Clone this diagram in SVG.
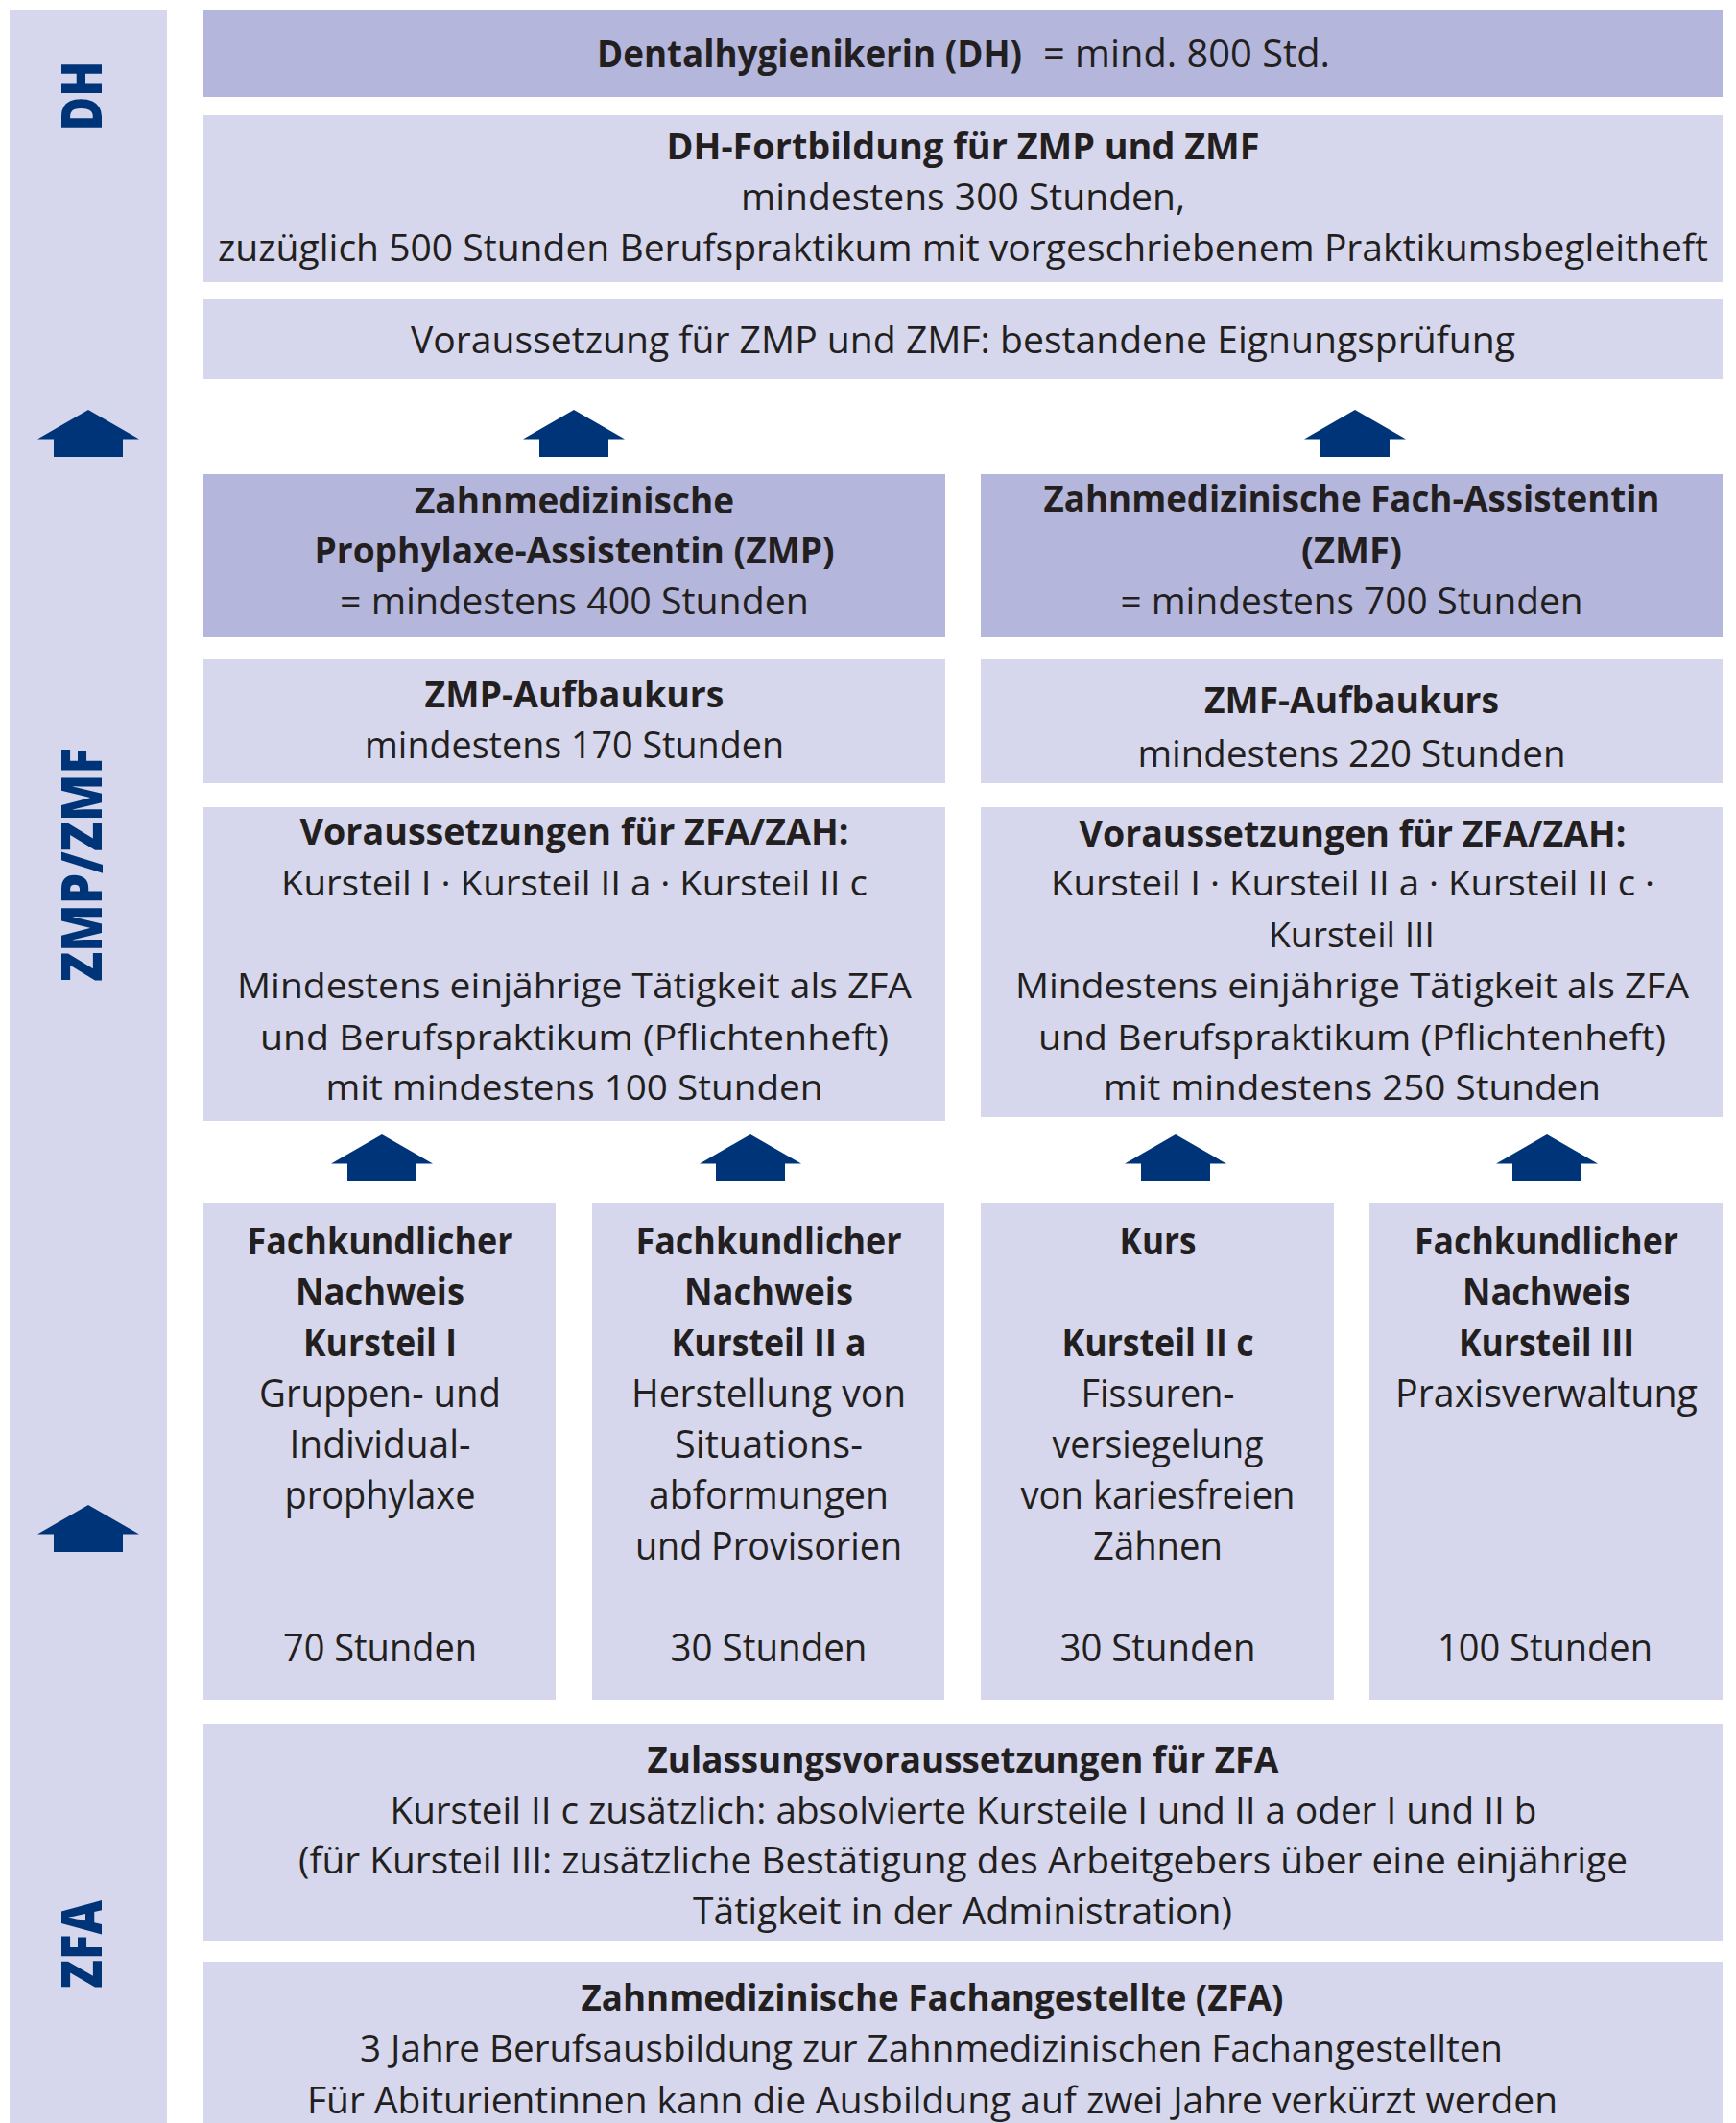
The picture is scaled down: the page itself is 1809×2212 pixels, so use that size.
<svg xmlns="http://www.w3.org/2000/svg" width="1809" height="2212" viewBox="0 0 1809 2212">
<style>
.l{fill:#D6D7EC}
.d{fill:#B4B6DC}
text{font-family:"Open Sans","Noto Sans","DejaVu Sans",sans-serif;fill:#231F20;text-anchor:middle;font-size:38px}
.b{font-weight:700}
.s{text-anchor:start}
.k{font-size:40px}
.v{font-size:37px}
.lab{fill:#003478;font-weight:800;font-size:58px}
.arr{fill:#003478}
</style>
<defs>
<path id="up" d="M0,0 L53,30.5 L36,30.5 L36,49 L-36,49 L-36,30.5 L-53,30.5 Z"/>
</defs>
<rect width="1809" height="2212" fill="#FFFFFF"/>

<g id="sidebar">
<rect class="l" x="10" y="10" width="164" height="2202"/>
<text class="lab" transform="translate(106,100) rotate(-90)" textLength="73" lengthAdjust="spacingAndGlyphs">DH</text>
<text class="lab" transform="translate(106,901) rotate(-90)" textLength="244" lengthAdjust="spacingAndGlyphs">ZMP/ZMF</text>
<text class="lab" transform="translate(106,2026) rotate(-90)" textLength="92" lengthAdjust="spacingAndGlyphs">ZFA</text>
</g>

<g id="dh">
<rect class="d" x="212" y="10" width="1583" height="91"/>
<text class="b s k" x="622" y="70" textLength="443" lengthAdjust="spacingAndGlyphs">Dentalhygienikerin (DH)</text>
<text class="s k" x="1087" y="70" textLength="299" lengthAdjust="spacingAndGlyphs">= mind. 800 Std.</text>
</g>

<g id="dh-fortbildung">
<rect class="l" x="212" y="120" width="1583" height="174"/>
<text class="b" x="1003.5" y="166" textLength="618" lengthAdjust="spacingAndGlyphs">DH-Fortbildung für ZMP und ZMF</text>
<text x="1003.5" y="219" textLength="463" lengthAdjust="spacingAndGlyphs">mindestens 300 Stunden,</text>
<text x="1003.5" y="272" textLength="1553" lengthAdjust="spacingAndGlyphs">zuzüglich 500 Stunden Berufspraktikum mit vorgeschriebenem Praktikumsbegleitheft</text>
</g>

<g id="dh-voraussetzung">
<rect class="l" x="212" y="312" width="1583" height="83"/>
<text x="1003.5" y="368" textLength="1151" lengthAdjust="spacingAndGlyphs">Voraussetzung für ZMP und ZMF: bestandene Eignungsprüfung</text>
</g>

<g id="zmp">
<rect class="d" x="212" y="494" width="773" height="170"/>
<text class="b" x="598.5" y="535" textLength="333" lengthAdjust="spacingAndGlyphs">Zahnmedizinische</text>
<text class="b" x="598.5" y="587" textLength="542" lengthAdjust="spacingAndGlyphs">Prophylaxe-Assistentin (ZMP)</text>
<text x="598.5" y="640" textLength="489" lengthAdjust="spacingAndGlyphs">= mindestens 400 Stunden</text>
</g>

<g id="zmf">
<rect class="d" x="1022" y="494" width="773" height="170"/>
<text class="b" x="1408.5" y="533" textLength="642" lengthAdjust="spacingAndGlyphs">Zahnmedizinische Fach-Assistentin</text>
<text class="b" x="1408.5" y="587" textLength="105" lengthAdjust="spacingAndGlyphs">(ZMF)</text>
<text x="1408.5" y="640" textLength="482" lengthAdjust="spacingAndGlyphs">= mindestens 700 Stunden</text>
</g>

<g id="zmp-aufbaukurs">
<rect class="l" x="212" y="687" width="773" height="129"/>
<text class="b" x="598.5" y="737" textLength="312" lengthAdjust="spacingAndGlyphs">ZMP-Aufbaukurs</text>
<text x="598.5" y="790" textLength="437" lengthAdjust="spacingAndGlyphs">mindestens 170 Stunden</text>
</g>

<g id="zmf-aufbaukurs">
<rect class="l" x="1022" y="687" width="773" height="129"/>
<text class="b" x="1408.5" y="743" textLength="307" lengthAdjust="spacingAndGlyphs">ZMF-Aufbaukurs</text>
<text x="1408.5" y="799" textLength="446" lengthAdjust="spacingAndGlyphs">mindestens 220 Stunden</text>
</g>

<g id="zmp-voraussetzungen">
<rect class="l" x="212" y="841" width="773" height="327"/>
<text class="b v" x="598.5" y="880" textLength="572" lengthAdjust="spacingAndGlyphs">Voraussetzungen für ZFA/ZAH:</text>
<text class="v" x="598.5" y="933" textLength="611" lengthAdjust="spacingAndGlyphs">Kursteil I · Kursteil II a · Kursteil II c</text>
<text class="v" x="598.5" y="1040" textLength="703" lengthAdjust="spacingAndGlyphs">Mindestens einjährige Tätigkeit als ZFA</text>
<text class="v" x="598.5" y="1094" textLength="655" lengthAdjust="spacingAndGlyphs">und Berufspraktikum (Pflichtenheft)</text>
<text class="v" x="598.5" y="1146" textLength="518" lengthAdjust="spacingAndGlyphs">mit mindestens 100 Stunden</text>
</g>

<g id="zmf-voraussetzungen">
<rect class="l" x="1022" y="841" width="773" height="323"/>
<text class="b v" x="1409.5" y="882" textLength="570" lengthAdjust="spacingAndGlyphs">Voraussetzungen für ZFA/ZAH:</text>
<text class="v" x="1409.5" y="933" textLength="629" lengthAdjust="spacingAndGlyphs">Kursteil I · Kursteil II a · Kursteil II c ·</text>
<text class="v" x="1408.5" y="987" textLength="173" lengthAdjust="spacingAndGlyphs">Kursteil III</text>
<text class="v" x="1409" y="1040" textLength="702" lengthAdjust="spacingAndGlyphs">Mindestens einjährige Tätigkeit als ZFA</text>
<text class="v" x="1409" y="1094" textLength="654" lengthAdjust="spacingAndGlyphs">und Berufspraktikum (Pflichtenheft)</text>
<text class="v" x="1409" y="1146" textLength="518" lengthAdjust="spacingAndGlyphs">mit mindestens 250 Stunden</text>
</g>

<g id="kursteil-1">
<rect class="l" x="212" y="1253" width="367" height="518"/>
<text class="b k" x="396" y="1307" textLength="277" lengthAdjust="spacingAndGlyphs">Fachkundlicher</text>
<text class="b k" x="396" y="1360" textLength="176" lengthAdjust="spacingAndGlyphs">Nachweis</text>
<text class="b k" x="396" y="1413" textLength="160" lengthAdjust="spacingAndGlyphs">Kursteil I</text>
<text class="k" x="396" y="1466" textLength="252" lengthAdjust="spacingAndGlyphs">Gruppen- und</text>
<text class="k" x="396" y="1519" textLength="189" lengthAdjust="spacingAndGlyphs">Individual-</text>
<text class="k" x="396" y="1572" textLength="199" lengthAdjust="spacingAndGlyphs">prophylaxe</text>
<text class="k" x="396" y="1731" textLength="202" lengthAdjust="spacingAndGlyphs">70 Stunden</text>
</g>

<g id="kursteil-2a">
<rect class="l" x="617" y="1253" width="367" height="518"/>
<text class="b k" x="801" y="1307" textLength="277" lengthAdjust="spacingAndGlyphs">Fachkundlicher</text>
<text class="b k" x="801" y="1360" textLength="176" lengthAdjust="spacingAndGlyphs">Nachweis</text>
<text class="b k" x="801" y="1413" textLength="203" lengthAdjust="spacingAndGlyphs">Kursteil II a</text>
<text class="k" x="801" y="1466" textLength="286" lengthAdjust="spacingAndGlyphs">Herstellung von</text>
<text class="k" x="801" y="1519" textLength="196" lengthAdjust="spacingAndGlyphs">Situations-</text>
<text class="k" x="801" y="1572" textLength="250" lengthAdjust="spacingAndGlyphs">abformungen</text>
<text class="k" x="801" y="1625" textLength="278" lengthAdjust="spacingAndGlyphs">und Provisorien</text>
<text class="k" x="801" y="1731" textLength="205" lengthAdjust="spacingAndGlyphs">30 Stunden</text>
</g>

<g id="kursteil-2c">
<rect class="l" x="1022" y="1253" width="368" height="518"/>
<text class="b k" x="1206.5" y="1307" textLength="80" lengthAdjust="spacingAndGlyphs">Kurs</text>
<text class="b k" x="1206.5" y="1413" textLength="200" lengthAdjust="spacingAndGlyphs">Kursteil II c</text>
<text class="k" x="1206.5" y="1466" textLength="160" lengthAdjust="spacingAndGlyphs">Fissuren-</text>
<text class="k" x="1206.5" y="1519" textLength="220" lengthAdjust="spacingAndGlyphs">versiegelung</text>
<text class="k" x="1206.5" y="1572" textLength="286" lengthAdjust="spacingAndGlyphs">von kariesfreien</text>
<text class="k" x="1206.5" y="1625" textLength="135" lengthAdjust="spacingAndGlyphs">Zähnen</text>
<text class="k" x="1206.5" y="1731" textLength="204" lengthAdjust="spacingAndGlyphs">30 Stunden</text>
</g>

<g id="kursteil-3">
<rect class="l" x="1427" y="1253" width="368" height="518"/>
<text class="b k" x="1611.5" y="1307" textLength="275" lengthAdjust="spacingAndGlyphs">Fachkundlicher</text>
<text class="b k" x="1611.5" y="1360" textLength="175" lengthAdjust="spacingAndGlyphs">Nachweis</text>
<text class="b k" x="1611.5" y="1413" textLength="183" lengthAdjust="spacingAndGlyphs">Kursteil III</text>
<text class="k" x="1611.5" y="1466" textLength="315" lengthAdjust="spacingAndGlyphs">Praxisverwaltung</text>
<text class="k" x="1610" y="1731" textLength="224" lengthAdjust="spacingAndGlyphs">100 Stunden</text>
</g>

<g id="zfa-zulassung">
<rect class="l" x="212" y="1796" width="1583" height="226"/>
<text class="b" x="1003.5" y="1847" textLength="658" lengthAdjust="spacingAndGlyphs">Zulassungsvoraussetzungen für ZFA</text>
<text x="1004" y="1900" textLength="1195" lengthAdjust="spacingAndGlyphs">Kursteil II c zusätzlich: absolvierte Kursteile I und II a oder I und II b</text>
<text x="1003.5" y="1952" textLength="1385" lengthAdjust="spacingAndGlyphs">(für Kursteil III: zusätzliche Bestätigung des Arbeitgebers über eine einjährige</text>
<text x="1003" y="2005" textLength="562" lengthAdjust="spacingAndGlyphs">Tätigkeit in der Administration)</text>
</g>

<g id="zfa">
<rect class="l" x="212" y="2044" width="1583" height="168"/>
<text class="b" x="971.5" y="2095" textLength="732" lengthAdjust="spacingAndGlyphs">Zahnmedizinische Fachangestellte (ZFA)</text>
<text x="970.5" y="2148" textLength="1191" lengthAdjust="spacingAndGlyphs">3 Jahre Berufsausbildung zur Zahnmedizinischen Fachangestellten</text>
<text x="971.5" y="2202" textLength="1303" lengthAdjust="spacingAndGlyphs">Für Abiturientinnen kann die Ausbildung auf zwei Jahre verkürzt werden</text>
</g>

<g id="connectors" class="arr">
<use href="#up" x="92" y="427"/>
<use href="#up" x="598" y="427"/>
<use href="#up" x="1412" y="427"/>
<use href="#up" x="398" y="1182"/>
<use href="#up" x="782" y="1182"/>
<use href="#up" x="1225" y="1182"/>
<use href="#up" x="1612" y="1182"/>
<use href="#up" x="92" y="1568"/>
</g>
</svg>
